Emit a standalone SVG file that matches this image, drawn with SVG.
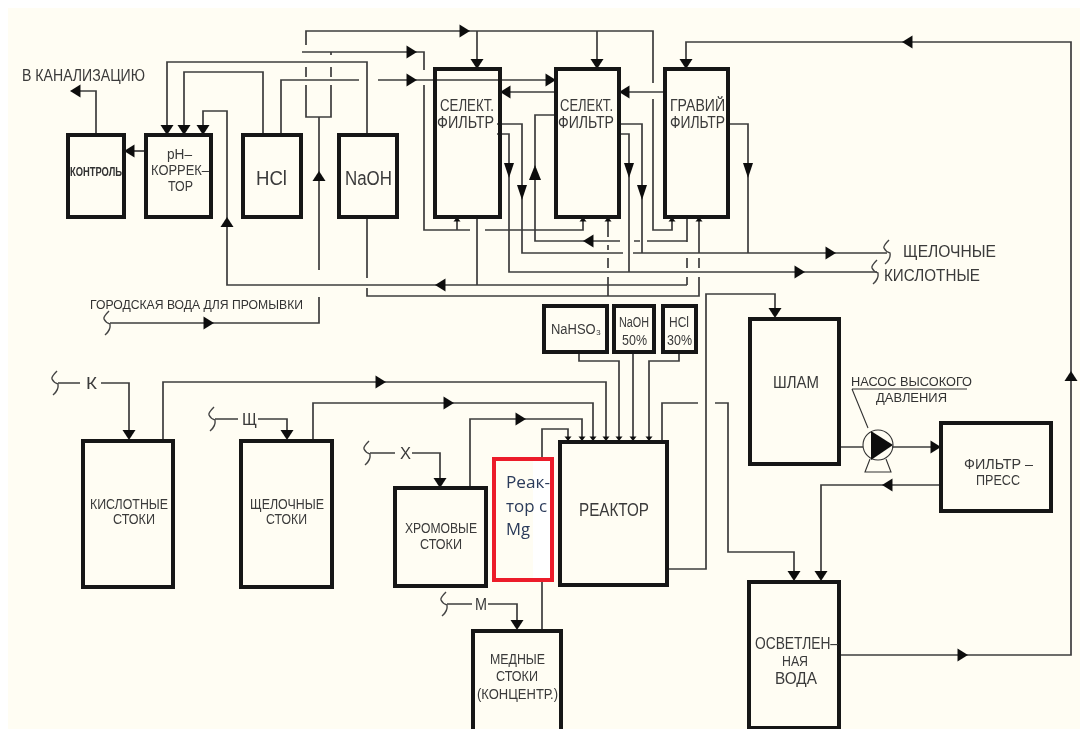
<svg xmlns="http://www.w3.org/2000/svg" width="1080" height="729" viewBox="0 0 1080 729">
<style>
.ln{fill:none;stroke:#3c3c3c;stroke-width:1.7}
.box{fill:none;stroke:#141414;stroke-width:4}
.thin{fill:none;stroke:#333;stroke-width:1.1}
.ah{fill:#111;stroke:none}
.br{fill:none;stroke:#444;stroke-width:1.4}
text{font-family:"Liberation Sans",Arial,sans-serif;fill:#3a3a3a;font-size:14px;text-anchor:start}
.f{font-size:16px}
.s{font-size:12px;fill:#333}
.p{font-size:13px;fill:#333}
.m{font-size:14px}
.big{font-size:20px}
.lab{font-size:17px}
.r{font-family:"Open Sans","Noto Sans",sans-serif;font-size:16.500px;fill:#2a3a5a}
</style>
<defs>
<path id="d" class="ah" d="M-6.500 -10H6.500L0 0Z"/>
<path id="u" class="ah" d="M-6.500 10H6.500L0 0Z"/>
<path id="dn" class="ah" d="M-5 -15H5L0 0Z"/>
<path id="up" class="ah" d="M-6 15H6L0 0Z"/>
<path id="l" class="ah" d="M10.500 -6.500V6.500L0 0Z"/>
<path id="rt" class="ah" d="M-10.500 -6.500V6.500L0 0Z"/>
<path id="su" class="ah" d="M-3.500 4.500H3.500L0 0Z"/>
<path id="sd" class="ah" d="M-3.500 -4.500H3.500L0 0Z"/>
<path id="b" class="br" d="M-1 -12Q-7 -6 -6 -4Q-4 0 0 1Q1 7 -5 12"/>
<filter id="soft" x="0" y="0" width="100%" height="100%"><feGaussianBlur stdDeviation="0.45"/></filter>
</defs>
<rect width="1080" height="729" fill="#ffffff"/>
<rect x="8" y="8" width="1072" height="721" fill="#fffdf3"/>
<g filter="url(#soft)">
<g id="connectors">
<path class="ln" d="M96 135V91H78"/>
<path class="ln" d="M146 151H130"/>
<path class="ln" d="M367 135V62H167V127"/>
<path class="ln" d="M263 135V72H184V127"/>
<path class="ln" d="M281 135V80H359M378 80H550"/>
<path class="ln" d="M227 218V285H687M227 285V111H203V127"/>
<path class="ln" d="M306 45V31H653V83M653 99V230H672V219"/>
<path class="ln" d="M306 67V77M306 85V117H331V85M331 77V67M331 55V52"/>
<path class="ln" d="M319 117V270M319 297V323H110"/>
<path class="ln" d="M302 52H424V70M424 85V230H470M485 230H583V219"/>
<path class="ln" d="M457 230V219"/>
<path class="ln" d="M477 31V62M597 31V62"/>
<path class="ln" d="M686 62V42H1071V655H840"/>
<path class="ln" d="M556 92H506M665 92H625"/>
<path class="ln" d="M477 217V285"/>
<path class="ln" d="M367 217V278M367 288V296H699V277M699 268V258M699 253V219"/>
<path class="ln" d="M608 296V277M608 268V258M608 250V245M608 237V219"/>
<path class="ln" d="M687 285V277M687 268V258M687 242V217"/>
<path class="ln" d="M687 241H647M640 241H634M620 241H535V115H556"/>
<path class="ln" d="M497 124H522V253H623M633 253H887"/>
<path class="ln" d="M497 134H509V272H877"/>
<path class="ln" d="M619 134H629V272"/>
<path class="ln" d="M619 124H642V253"/>
<path class="ln" d="M728 124H748V253"/>
<path class="ln" d="M579 352V361H619V438"/>
<path class="ln" d="M633 352V438"/>
<path class="ln" d="M679 352V361H649V438"/>
<path class="ln" d="M163 440V382H606V438"/>
<path class="ln" d="M313 440V403H593V438"/>
<path class="ln" d="M470 487V419H582V438"/>
<path class="ln" d="M542 629V429H568V438"/>
<path class="ln" d="M662 442V403H698M715 403H728V552H794V574"/>
<path class="ln" d="M667 569H706V294H775V311"/>
<path class="ln" d="M839 447H863M892 447H935"/>
<path class="ln" d="M941 485H821V574"/>
<path class="ln" d="M58 383H80M101 383H129V432"/>
<path class="ln" d="M215 419H238M258 419H287V432"/>
<path class="ln" d="M370 453H395M412 453H440V480"/>
<path class="ln" d="M447 604H472M488 604H517V622"/>
<use href="#l" x="70" y="91"/><use href="#l" x="124" y="151"/>
<use href="#d" x="167" y="135"/><use href="#d" x="184" y="135"/><use href="#d" x="203" y="135"/>
<use href="#u" x="227" y="217"/><use href="#u" x="319" y="171"/>
<use href="#rt" x="417" y="52"/><use href="#rt" x="417" y="80"/><use href="#rt" x="470" y="31"/>
<use href="#rt" x="556" y="80"/><use href="#l" x="500" y="92"/><use href="#l" x="619" y="92"/>
<use href="#d" x="477" y="69"/><use href="#d" x="597" y="69"/><use href="#d" x="686" y="69"/>
<use href="#l" x="902" y="42"/><use href="#u" x="1071" y="371"/><use href="#rt" x="968" y="655"/>
<use href="#dn" x="509" y="178"/><use href="#dn" x="522" y="200"/><use href="#up" x="535" y="165"/>
<use href="#dn" x="629" y="178"/><use href="#dn" x="642" y="200"/><use href="#dn" x="748" y="178"/>
<use href="#l" x="583" y="241"/><use href="#l" x="435" y="285"/>
<use href="#rt" x="836" y="253"/><use href="#rt" x="805" y="272"/><use href="#rt" x="214" y="323"/>
<use href="#su" x="457" y="217"/><use href="#su" x="583" y="217"/><use href="#su" x="608" y="217"/><use href="#su" x="672" y="217"/><use href="#su" x="699" y="217"/>
<use href="#sd" x="568" y="441"/><use href="#sd" x="582" y="441"/><use href="#sd" x="593" y="441"/><use href="#sd" x="606" y="441"/><use href="#sd" x="619" y="441"/><use href="#sd" x="633" y="441"/><use href="#sd" x="649" y="441"/>
<use href="#rt" x="386" y="382"/><use href="#rt" x="454" y="403"/><use href="#rt" x="526" y="419"/>
<use href="#d" x="775" y="318"/><use href="#d" x="794" y="581"/><use href="#d" x="821" y="581"/>
<use href="#rt" x="941" y="447"/><use href="#l" x="882" y="485"/>
<use href="#d" x="129" y="440"/><use href="#d" x="287" y="440"/><use href="#d" x="440" y="488"/><use href="#d" x="517" y="630"/>
<use href="#b" x="58" y="383"/><use href="#b" x="215" y="419"/><use href="#b" x="370" y="453"/><use href="#b" x="447" y="604"/>
<use href="#b" x="110" y="323"/><use href="#b" x="890" y="252"/><use href="#b" x="878" y="272"/>
</g>
<g id="kontrol"><rect class="box" x="68" y="135" width="56" height="82"/><text class="s" x="70" y="176" textLength="52" lengthAdjust="spacingAndGlyphs" font-weight="bold">КОНТРОЛЬ</text></g>
<g id="ph"><rect class="box" x="146" y="135" width="65" height="82"/><text x="167" y="159" textLength="25" lengthAdjust="spacingAndGlyphs">pH–</text><text x="151" y="175" textLength="58" lengthAdjust="spacingAndGlyphs">КОРРЕК–</text><text x="168" y="191" textLength="25" lengthAdjust="spacingAndGlyphs">ТОР</text></g>
<g id="hcl"><rect class="box" x="243" y="135" width="58" height="82"/><text class="big" x="256" y="185" textLength="31" lengthAdjust="spacingAndGlyphs">HCl</text></g>
<g id="naoh"><rect class="box" x="339" y="135" width="58" height="82"/><text class="big" x="345" y="185" textLength="47" lengthAdjust="spacingAndGlyphs">NaOH</text></g>
<g id="filter1"><rect class="box" x="435" y="69" width="65" height="148"/><text class="f" x="440" y="111" textLength="54" lengthAdjust="spacingAndGlyphs">СЕЛЕКТ.</text><text class="f" x="437" y="128" textLength="57" lengthAdjust="spacingAndGlyphs">ФИЛЬТР</text></g>
<g id="filter2"><rect class="box" x="556" y="69" width="63" height="148"/><text class="f" x="560" y="111" textLength="53" lengthAdjust="spacingAndGlyphs">СЕЛЕКТ.</text><text class="f" x="558" y="128" textLength="56" lengthAdjust="spacingAndGlyphs">ФИЛЬТР</text></g>
<g id="filter3"><rect class="box" x="665" y="69" width="63" height="148"/><text class="f" x="670" y="111" textLength="55" lengthAdjust="spacingAndGlyphs">ГРАВИЙ</text><text class="f" x="670" y="128" textLength="55" lengthAdjust="spacingAndGlyphs">ФИЛЬТР</text></g>
<g id="nahso3"><rect class="box" x="544" y="306" width="63" height="46"/><text x="551" y="334" class="m" textLength="50" lengthAdjust="spacingAndGlyphs">NaHSO₃</text></g>
<g id="naoh50"><rect class="box" x="614" y="306" width="40" height="46"/><text x="619" y="327" class="m" textLength="30" lengthAdjust="spacingAndGlyphs">NaOH</text><text x="622" y="345" class="m" textLength="25" lengthAdjust="spacingAndGlyphs">50%</text></g>
<g id="hcl30"><rect class="box" x="663" y="306" width="33" height="46"/><text x="669" y="327" class="m" textLength="20" lengthAdjust="spacingAndGlyphs">HCl</text><text x="667" y="345" class="m" textLength="25" lengthAdjust="spacingAndGlyphs">30%</text></g>
<g id="kisl"><rect class="box" x="83" y="441" width="90" height="146"/><text x="90" y="509" class="m" textLength="78" lengthAdjust="spacingAndGlyphs">КИСЛОТНЫЕ</text><text x="113" y="524" class="m" textLength="42" lengthAdjust="spacingAndGlyphs">СТОКИ</text></g>
<g id="shchel"><rect class="box" x="241" y="441" width="91" height="146"/><text x="250" y="509" class="m" textLength="74" lengthAdjust="spacingAndGlyphs">ЩЕЛОЧНЫЕ</text><text x="266" y="524" class="m" textLength="41" lengthAdjust="spacingAndGlyphs">СТОКИ</text></g>
<g id="khrom"><rect class="box" x="395" y="488" width="91" height="98"/><text x="405" y="533" class="m" textLength="72" lengthAdjust="spacingAndGlyphs">ХРОМОВЫЕ</text><text x="420" y="549" class="m" textLength="42" lengthAdjust="spacingAndGlyphs">СТОКИ</text></g>
<g id="med"><rect class="box" x="473" y="631" width="88" height="110"/><text x="490" y="664" class="m" textLength="55" lengthAdjust="spacingAndGlyphs">МЕДНЫЕ</text><text x="496" y="681" class="m" textLength="42" lengthAdjust="spacingAndGlyphs">СТОКИ</text><text x="477" y="699" class="m" textLength="81" lengthAdjust="spacingAndGlyphs">(КОНЦЕНТР.)</text></g>
<g id="reactor-mg"><rect x="494" y="459" width="58" height="121" fill="#fffdf3" stroke="none"/><rect x="533" y="460" width="18" height="119" fill="#fff"/><rect x="494" y="459" width="58" height="121" fill="none" stroke="#ec1c2c" stroke-width="4"/><text class="r" x="506" y="488" textLength="44" lengthAdjust="spacingAndGlyphs">Реак-</text><text class="r" x="506" y="512" textLength="41" lengthAdjust="spacingAndGlyphs">тор с</text><text class="r" x="506" y="535" textLength="24" lengthAdjust="spacingAndGlyphs">Mg</text></g>
<g id="reactor"><rect class="box" x="560" y="442" width="107" height="143"/><text x="579" y="516" style="font-size:18px" textLength="70" lengthAdjust="spacingAndGlyphs">РЕАКТОР</text></g>
<g id="shlam"><rect class="box" x="750" y="319" width="89" height="145"/><text x="773" y="388" style="font-size:16px" textLength="46" lengthAdjust="spacingAndGlyphs">ШЛАМ</text></g>
<g id="pump"><circle cx="878" cy="445" r="15" class="thin"/><path class="ah" d="M871 431V460L893 445Z"/><path class="thin" d="M870 459L865 472H891L886 459"/><path class="thin" d="M852 389L868 428M852 389H967"/><text class="p" x="851" y="386" textLength="121" lengthAdjust="spacingAndGlyphs">НАСОС ВЫСОКОГО</text><text class="p" x="876" y="402" textLength="71" lengthAdjust="spacingAndGlyphs">ДАВЛЕНИЯ</text></g>
<g id="press"><rect class="box" x="941" y="423" width="110" height="88"/><text x="964" y="469" class="m" textLength="69" lengthAdjust="spacingAndGlyphs">ФИЛЬТР –</text><text x="976" y="485" class="m" textLength="44" lengthAdjust="spacingAndGlyphs">ПРЕСС</text></g>
<g id="water"><rect class="box" x="749" y="582" width="90" height="146"/><text class="f" x="755" y="649" textLength="83" lengthAdjust="spacingAndGlyphs">ОСВЕТЛЕН–</text><text class="m" x="782" y="666" textLength="26" lengthAdjust="spacingAndGlyphs">НАЯ</text><text class="f" x="775" y="684" textLength="42" lengthAdjust="spacingAndGlyphs">ВОДА</text></g>
<g id="labels"><text x="22" y="81" class="f" textLength="123" lengthAdjust="spacingAndGlyphs">В КАНАЛИЗАЦИЮ</text><text x="90" y="309" class="s" textLength="213" lengthAdjust="spacingAndGlyphs">ГОРОДСКАЯ ВОДА ДЛЯ ПРОМЫВКИ</text><text x="903" y="257" class="lab" textLength="93" lengthAdjust="spacingAndGlyphs">ЩЕЛОЧНЫЕ</text><text x="884" y="281" class="lab" textLength="96" lengthAdjust="spacingAndGlyphs">КИСЛОТНЫЕ</text><text x="86" y="389" class="f" textLength="11" lengthAdjust="spacingAndGlyphs">К</text><text x="242" y="425" class="f" textLength="15" lengthAdjust="spacingAndGlyphs">Щ</text><text x="400" y="459" class="f" textLength="11" lengthAdjust="spacingAndGlyphs">Х</text><text x="475" y="610" class="f" textLength="12" lengthAdjust="spacingAndGlyphs">М</text></g>
</g>
</svg>
